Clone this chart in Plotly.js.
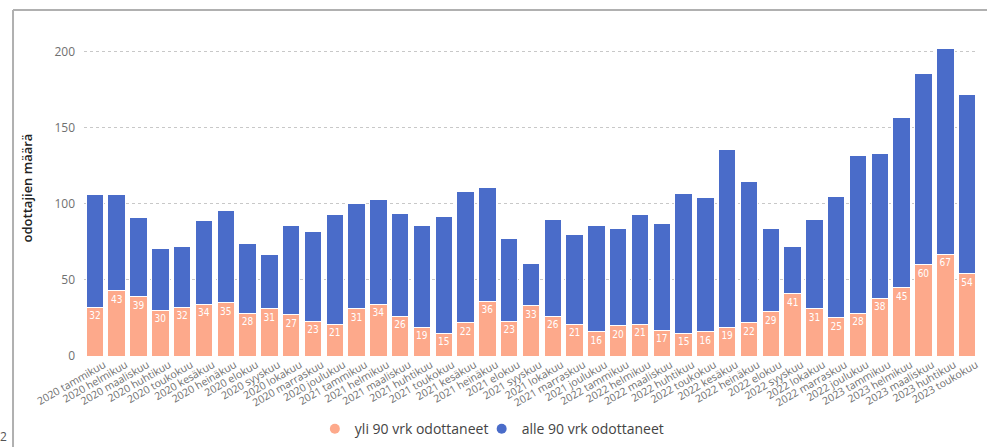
<!DOCTYPE html>
<html>
<head>
<meta charset="utf-8">
<script src="https://cdn.plot.ly/plotly-3.0.1.min.js"></script>
<style>
  html, body { margin: 0; padding: 0; background: #fff; }
  #chart { width: 987px; height: 447px; }
</style>
</head>
<body>
<div id="chart"></div>
<script>
const MONTHS = [
  "2020 tammikuu", "2020 helmikuu", "2020 maaliskuu", "2020 huhtikuu", "2020 toukokuu", "2020 kesäkuu",
  "2020 heinäkuu", "2020 elokuu", "2020 syyskuu", "2020 lokakuu", "2020 marraskuu", "2020 joulukuu",
  "2021 tammikuu", "2021 helmikuu", "2021 maaliskuu", "2021 huhtikuu", "2021 toukokuu", "2021 kesäkuu",
  "2021 heinäkuu", "2021 elokuu", "2021 syyskuu", "2021 lokakuu", "2021 marraskuu", "2021 joulukuu",
  "2022 tammikuu", "2022 helmikuu", "2022 maaliskuu", "2022 huhtikuu", "2022 toukokuu", "2022 kesäkuu",
  "2022 heinäkuu", "2022 elokuu", "2022 syyskuu", "2022 lokakuu", "2022 marraskuu", "2022 joulukuu",
  "2023 tammikuu", "2023 helmikuu", "2023 maaliskuu", "2023 huhtikuu", "2023 toukokuu",
];

// yli 90 vrk odottaneet
const OVER_90 = [
  32, 43, 39, 30, 32, 34, 35, 28, 31, 27, 23, 21,
  31, 34, 26, 19, 15, 22, 36, 23, 33, 26, 21, 16,
  20, 21, 17, 15, 16, 19, 22, 29, 41, 31, 25, 28,
  38, 45, 60, 67, 54,
];

// alle 90 vrk odottaneet
const UNDER_90 = [
  74, 63, 52, 41, 40, 55, 61, 46, 36, 59, 59, 72,
  69, 69, 68, 67, 77, 86, 75, 54, 28, 64, 59, 70,
  64, 72, 70, 92, 88, 117, 93, 55, 31, 59, 80, 104,
  95, 112, 126, 135, 118,
];

const COLORS = {
  over: "#FDA98B",
  under: "#4A6CC9",
  grid: "#c8c8c8",
  tick: "#707070",
  frame: "#b0b0b0",
};

const FONT = "'Open Sans', 'Noto Sans', sans-serif";

const traces = [
  {
    x: MONTHS,
    y: OVER_90,
    type: "bar",
    name: "yli 90 vrk odottaneet",
    marker: { color: COLORS.over, line: { color: "#ffffff", width: 1 } },
    text: OVER_90.map(String),
    textposition: "inside",
    insidetextanchor: "end",
    constraintext: "none",
    textangle: 0,
    textfont: { family: "'DejaVu Sans Condensed', 'Liberation Sans Narrow', sans-serif", size: 10, color: "#ffffff" },
    showlegend: false,
    hoverinfo: "x+y+name",
  },
  {
    x: MONTHS,
    y: UNDER_90,
    type: "bar",
    name: "alle 90 vrk odottaneet",
    marker: { color: COLORS.under, line: { color: "#ffffff", width: 1 } },
    showlegend: false,
    hoverinfo: "x+y+name",
  },
  // legend entries with round markers, one legend box each
  {
    x: [null], y: [null], type: "scatter", mode: "markers",
    name: "yli 90 vrk odottaneet",
    legend: "legend",
    marker: { color: COLORS.over, size: 10, symbol: "circle" },
  },
  {
    x: [null], y: [null], type: "scatter", mode: "markers",
    name: "alle 90 vrk odottaneet",
    legend: "legend2",
    marker: { color: COLORS.under, size: 10, symbol: "circle" },
  },
];

const legendBase = {
  orientation: "h",
  xref: "container",
  xanchor: "left",
  yref: "container",
  y: 0.04,
  yanchor: "middle",
  font: { size: 14, color: "#444" },
  itemwidth: 30,
  bgcolor: "rgba(0,0,0,0)",
};

const layout = {
  width: 987,
  height: 447,
  barmode: "stack",
  bargap: 0.2,
  font: { family: FONT, size: 12, color: "#333" },
  paper_bgcolor: "#ffffff",
  plot_bgcolor: "#ffffff",
  margin: { t: 20, r: 9, b: 91, l: 84 },
  xaxis: {
    type: "category",
    tickangle: -30,
    tickfont: { size: 10.5, color: COLORS.tick },
    ticklabelshift: 9,
    showgrid: false,
    zeroline: false,
    showline: false,
    ticks: "",
    automargin: false,
  },
  yaxis: {
    title: { text: "odottajien määrä", font: { size: 13, color: "#222", weight: 600 }, standoff: 18 },
    range: [0, 221],
    tickvals: [0, 50, 100, 150, 200],
    tickfont: { size: 12, color: COLORS.tick },
    gridcolor: COLORS.grid,
    griddash: "dot",
    gridwidth: 1,
    zeroline: false,
    showline: false,
    ticklabelstandoff: 8,
    automargin: false,
  },
  legend: { ...legendBase, x: 0.319 },
  legend2: { ...legendBase, x: 0.488 },
  shapes: [
    { type: "line", xref: "paper", yref: "paper", x0: -0.0794, x1: -0.0794, y0: 1.03, y1: -0.3,
      line: { color: COLORS.frame, width: 2 } },
    { type: "line", xref: "paper", yref: "paper", x0: -0.0794, x1: 1.02, y0: 1.03, y1: 1.03,
      line: { color: COLORS.frame, width: 2 } },
  ],
  annotations: [
    { text: "2", xref: "paper", yref: "paper", x: -0.09, y: -0.24, xanchor: "center", yanchor: "middle",
      showarrow: false, font: { size: 12, color: "#555" } },
  ],
};

Plotly.newPlot("chart", traces, layout, { displayModeBar: false, staticPlot: true });
</script>
</body>
</html>
